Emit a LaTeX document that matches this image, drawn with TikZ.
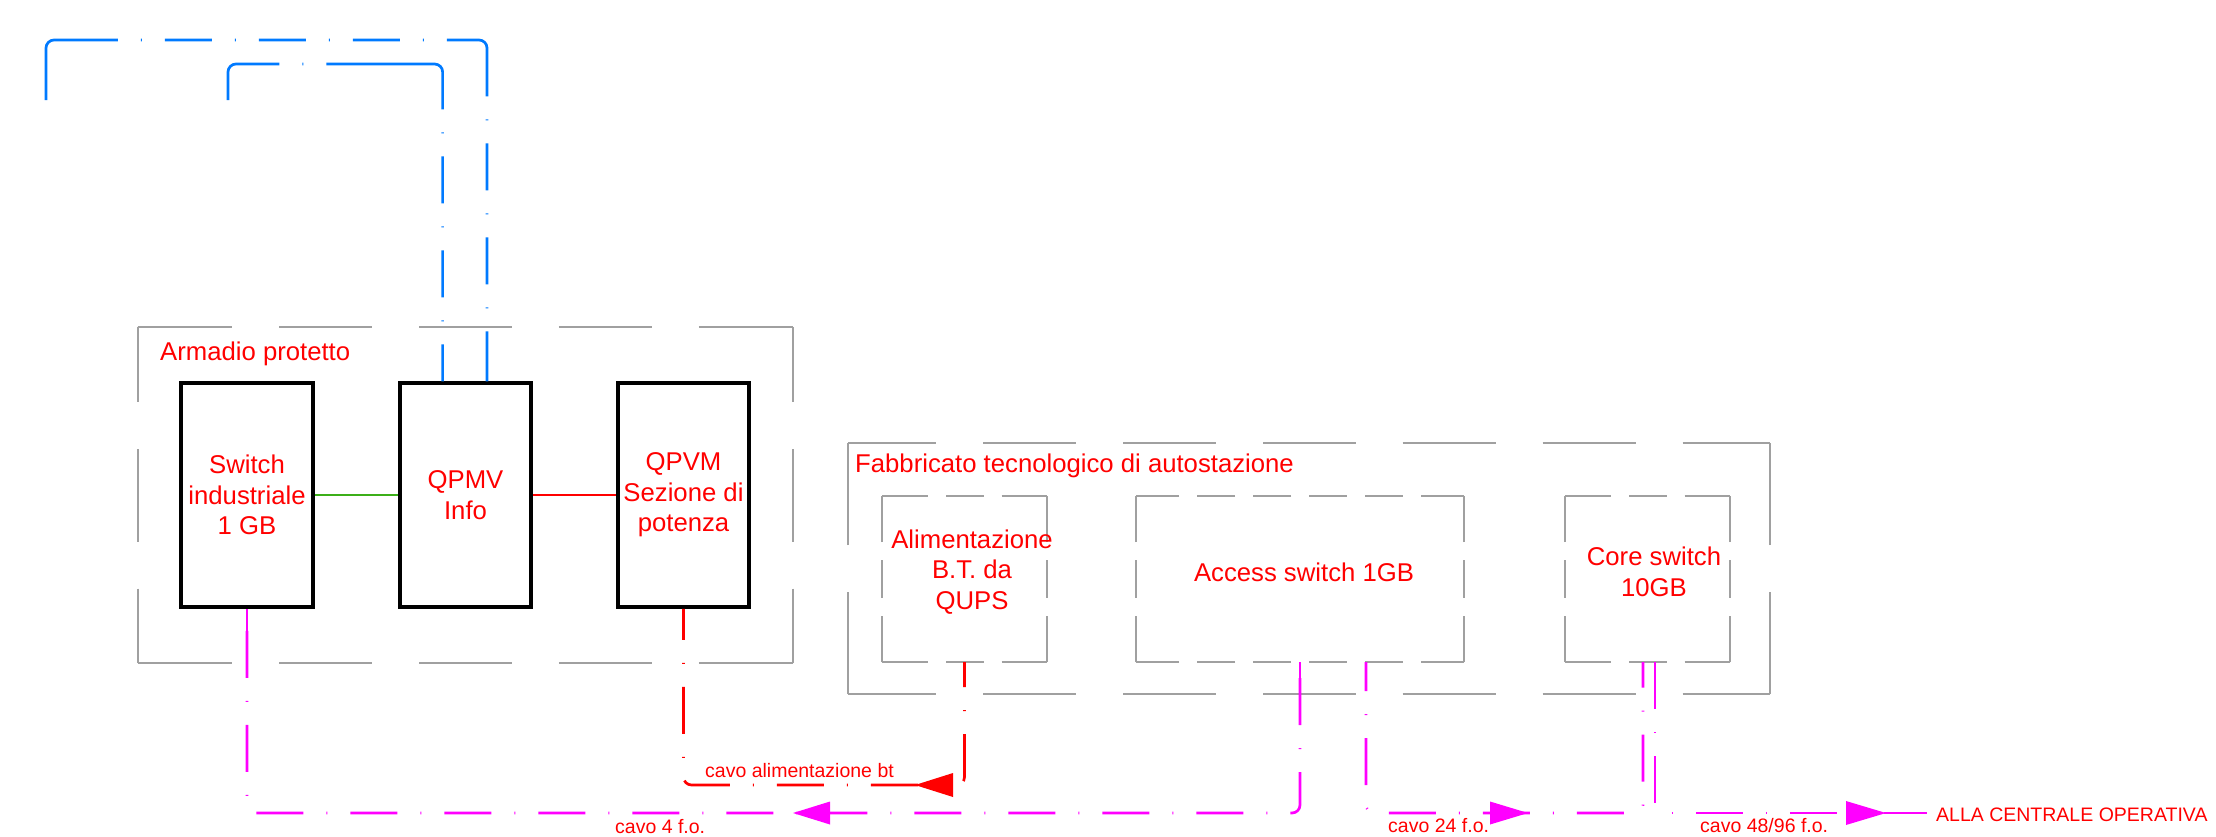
\documentclass[tikz,border=0pt]{standalone}
\usepackage{fontspec}
\setmainfont{Liberation Sans}
\usetikzlibrary{calc}
\definecolor{cadred}{RGB}{255,0,0}
\definecolor{cadmag}{RGB}{255,0,255}
\definecolor{cadblue}{RGB}{0,122,255}
\definecolor{cadgreen}{RGB}{60,175,25}
\definecolor{cadgray}{RGB}{160,160,160}
\newcommand\fbig{\fontsize{25.7pt}{30.5pt}\selectfont}
\newcommand\fsmall{\fontsize{19.5pt}{23pt}\selectfont}
% one side of a CAD-style dashed rectangle, pattern centred, end dashes stretched
\newcommand\cadseg[6]{%
  \pgfmathsetmacro\cadL{veclen(#3-#1,#4-#2)}%
  \pgfmathsetmacro\cadP{#5+#6}%
  \pgfmathsetmacro\cadN{floor(\cadL/\cadP)}%
  \pgfmathsetmacro\cadPh{ifthenelse(mod(\cadN,2)==0,#5/2,#5+#6/2)}%
  \pgfmathsetmacro\cadE{#5/2+(\cadL-\cadN*\cadP)/2}%
  \pgfmathsetmacro\cadMx{(#1+#3)/2}%
  \pgfmathsetmacro\cadMy{(#2+#4)/2}%
  \draw[graybox, dash pattern=on #5pt off #6pt, dash phase=\cadPh pt] (\cadMx,\cadMy) -- (#1,#2);
  \draw[graybox, dash pattern=on #5pt off #6pt, dash phase=\cadPh pt] (\cadMx,\cadMy) -- (#3,#4);
  \draw[graybox] (#1,#2) -- ($(#1,#2)!\cadE pt!(#3,#4)$);
  \draw[graybox] (#3,#4) -- ($(#3,#4)!\cadE pt!(#1,#2)$);
}
\newcommand\cadbox[6]{%
  \cadseg{#1}{#2}{#3}{#2}{#5}{#6}%
  \cadseg{#3}{#2}{#3}{#4}{#5}{#6}%
  \cadseg{#3}{#4}{#1}{#4}{#5}{#6}%
  \cadseg{#1}{#4}{#1}{#2}{#5}{#6}%
}
\begin{document}
\begin{tikzpicture}[x=1pt,y=-1pt,
  graybox/.style={draw=cadgray, line width=2pt},
  area/.style={draw=none, inner sep=0pt},
  eqbox/.style={draw=black, line width=3.5pt, minimum width=131pt, minimum height=224pt,
    inner sep=0pt, text=cadred, font=\fbig, align=center},
  lbl/.style={text=cadred, font=\fbig, inner sep=0pt},
  small/.style={text=cadred, font=\fsmall, inner sep=0pt},
  cable/.style={line width=2.7pt, dash pattern=on 47pt off 23pt on 1pt off 23pt},
  mline/.style={cable, draw=cadmag},
  rline/.style={cable, draw=cadred},
  msolid/.style={draw=cadmag, line width=2.7pt},
  bline/.style={draw=cadblue, line width=2.7pt, rounded corners=8pt}]
\fill[white] (0,0) rectangle (2216,836);
\useasboundingbox (0,0) rectangle (2216,836);

% ---- areas (dashed grey frames)
\node[area, minimum width=655.5pt, minimum height=336pt] (armbox) at (465.25,495) {};
\node[area, minimum width=922pt, minimum height=251pt] (fabbox) at (1309,568.5) {};
\node[area, minimum width=165pt, minimum height=166pt] (alimbox) at (964.5,579) {};
\node[area, minimum width=328pt, minimum height=166pt] (accbox) at (1300,579) {};
\node[area, minimum width=165pt, minimum height=166pt] (corebox) at (1647.5,579) {};
\cadbox{137.5}{327}{793}{663}{93}{47}
\cadbox{848}{443}{1770}{694}{93}{47}
\cadbox{882}{496}{1047}{662}{38}{18}
\cadbox{1136}{496}{1464}{662}{38}{18}
\cadbox{1565}{496}{1730}{662}{38}{18}

% ---- equipment in the cabinet
\node[eqbox, minimum width=132pt] (sw) at (247,495) {Switch\\industriale\\1 GB};
\node[eqbox] (qpmv) at (465.5,495) {QPMV\\Info};
\node[eqbox] (qpvm) at (683.5,495) {QPVM\\Sezione di\\potenza};

% ---- labels
\node[lbl, anchor=base west] (armlbl) at (160,360) {Armadio protetto};
\node[lbl, anchor=base west] (fablbl) at (855,472) {Fabbricato tecnologico di autostazione};
\node[lbl, align=center] (alim) at (972,572) {Alimentazione\\B.T. da\\QUPS};
\node[lbl] (acc) at (1304,572) {Access switch 1GB};
\node[lbl, align=center] (core) at (1654,572) {Core switch\\10GB};
\node[small, anchor=base west] (lblbt) at (705,777) {cavo alimentazione bt};
\node[small, anchor=base west] (lbl4) at (615,833) {cavo 4 f.o.};
\node[small, anchor=base west] (lbl24) at (1388,832) {cavo 24 f.o.};
\node[small, anchor=base west] (lbl48) at (1700,832) {cavo 48/96 f.o.};
\node[small, anchor=west] (cent) at (1936,815) {ALLA CENTRALE OPERATIVA};

% ---- coordinates
\coordinate (q1) at ($(qpmv.north west)!0.33!(qpmv.north east)$);
\coordinate (q2) at ($(qpmv.north west)!0.66!(qpmv.north east)$);
\coordinate (b1c) at (46,40);
\coordinate (b1e) at (46,100);
\coordinate (b2c) at (228,64);
\coordinate (b2e) at (228,100);
\coordinate (ylevR) at (0,785);
\coordinate (ylevM) at (0,813);
\coordinate (acc1) at (accbox.south);
\coordinate (acc2) at ($(accbox.south west)!0.7012!(accbox.south east)$);
\coordinate (core1) at ($(corebox.south west)!0.4727!(corebox.south east)$);
\coordinate (core2) at ($(corebox.south west)!0.5455!(corebox.south east)$);
\coordinate (cend) at (1927,813);
\coordinate (ra) at (915,785);
\coordinate (m1tip) at (793,813);
\coordinate (m2tip) at (1528,813);
\coordinate (m3tip) at (1886,813);

% ---- short links
\draw[cadgreen, line width=2.5pt] (sw.east) -- (qpmv.west);
\draw[cadred, line width=2.5pt] (qpmv.east) -- (qpvm.west);

% ---- blue links
\draw[bline, dash pattern=on 50pt off 23pt on 1pt off 23pt on 47pt off 23pt on 1pt off 23pt on 47pt off 23pt on 1pt off 23pt on 93pt off 23pt on 1pt off 23pt on 47pt off 23pt on 1pt off 23pt on 47pt off 23pt on 1pt off 23pt on 47pt off 23pt on 1pt off 23pt on 200pt off 10pt]
  (q2) |- (b1c) -- (b1e);
\draw[bline, dash pattern=on 37pt off 23pt on 1pt off 23pt on 47pt off 23pt on 1pt off 23pt on 47pt off 23pt on 1pt off 23pt on 158pt off 23pt on 1pt off 23pt on 200pt off 10pt]
  (q1) |- (b2c) -- (b2e);

% ---- power cable
\draw[rline, dash phase=16pt, rounded corners=8pt] (qpvm.south) |- (alimbox.south |- ylevR) -- (alimbox.south);
\fill[cadred] (ra) -- ++(38,-12) -- ++(0,24) -- cycle;

% ---- fibre cables
\draw[mline, dash phase=72pt, rounded corners=8pt] (sw.south) |- (acc1 |- ylevM) -- (acc1);
\draw[msolid] (sw.south) -- ++(0,25);
\draw[msolid] (acc1) -- ++(0,25);
\draw[mline, dash phase=18pt, rounded corners=8pt] (acc2) |- (core1 |- ylevM) -- (core1);
\draw[mline, rounded corners=8pt] (core2) |- (cend);
\draw[msolid] (m3tip) -- (cend);
\fill[cadmag] (m1tip) -- ++(37,-11.5) -- ++(0,23) -- cycle;
\fill[cadmag] (m2tip) -- ++(-38,-11.5) -- ++(0,23) -- cycle;
\fill[cadmag] (m3tip) -- ++(-40,-12) -- ++(0,24) -- cycle;
\end{tikzpicture}
\end{document}
